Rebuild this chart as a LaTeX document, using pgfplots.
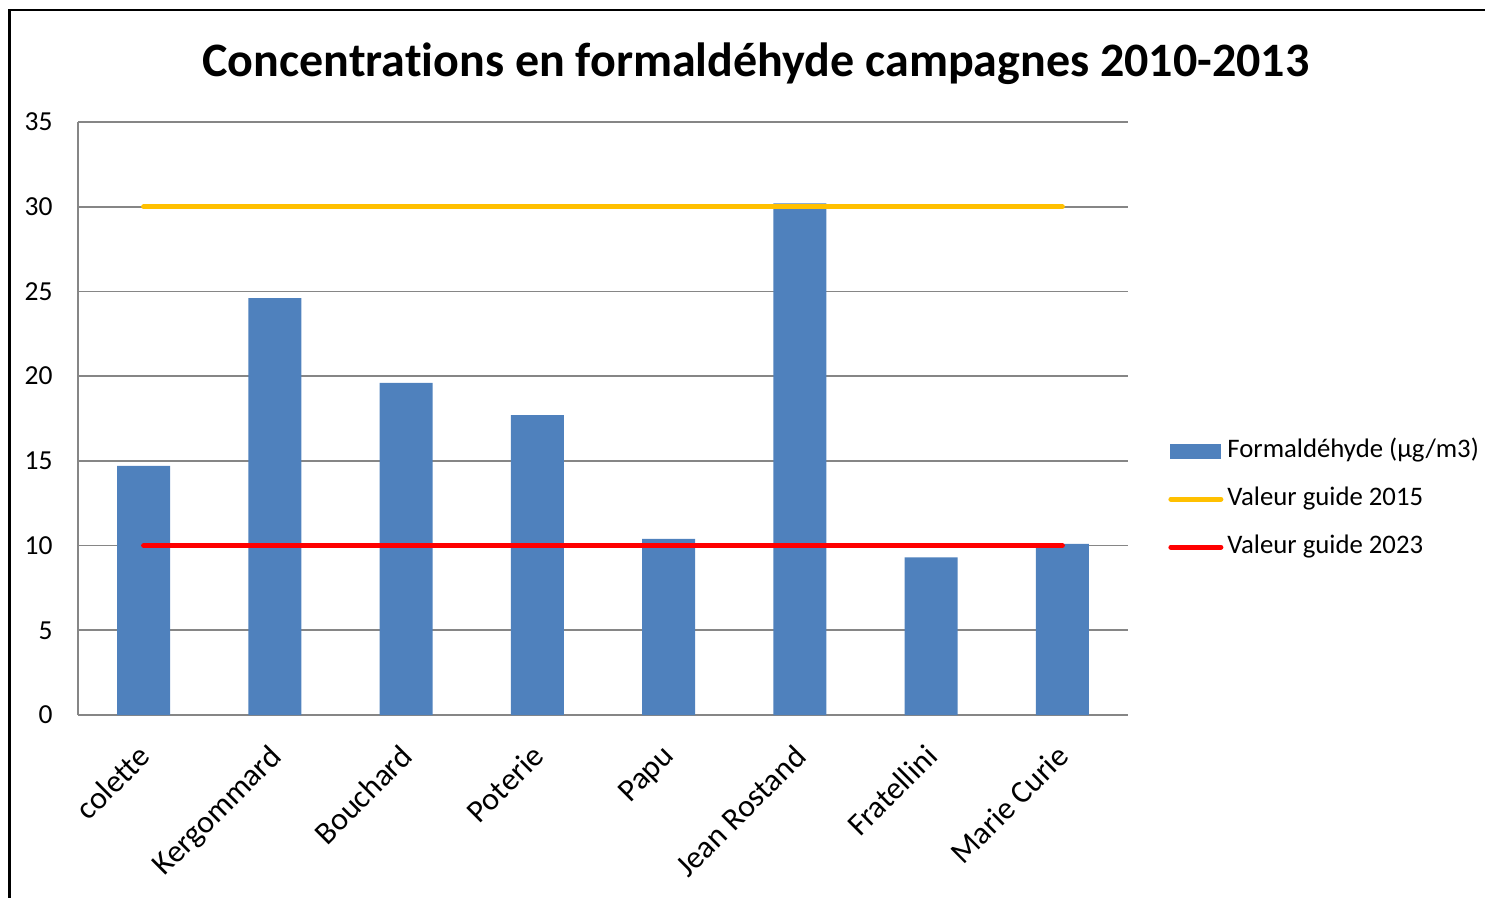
\documentclass[border=0pt]{standalone}
\usepackage{pgfplots}
\pgfplotsset{compat=1.18}
\usepackage{fontspec}
\setmainfont{Carlito}[Ligatures=CommonOff]
\definecolor{barblue}{HTML}{4F81BD}
\definecolor{guideyellow}{HTML}{FFC000}
\definecolor{guidered}{HTML}{FF0000}
\definecolor{gridgray}{HTML}{868686}
\begin{document}
\begin{tikzpicture}
\useasboundingbox (0,0) rectangle (594pt,358.8pt);
\draw[line width=0.9pt] (3.8pt,-1pt) -- (3.8pt,354.8pt) -- (595pt,354.8pt);
\begin{axis}[
  at={(31.2pt,72.8pt)}, anchor=south west,
  scale only axis, width=420pt, height=237.2pt,
  xmin=-0.5, xmax=7.5, ymin=0, ymax=35,
  ytick={0,5,...,35},
  xtick={0,...,7},
  xticklabels={colette,Kergommard,Bouchard,Poterie,Papu,Jean Rostand,Fratellini,Marie Curie},
  axis x line*=bottom, axis y line*=left,
  axis line style={-, gridgray, line width=0.7pt},
  ymajorgrids, grid style={gridgray, line width=0.7pt},
  major tick length=0pt,
  tick label style={black},
  yticklabel style={font=\fontsize{11}{13}\selectfont, anchor=east, inner sep=0pt, xshift=-10pt},
  xticklabel style={font=\fontsize{12.7}{15}\selectfont, yshift=-11pt, xshift=-3pt, rotate=45, anchor=north east, inner sep=0pt},
  /pgf/number format/assume math mode=true,
  legend style={at={(1.038,0.364)}, anchor=west, draw=none, fill=none,
    font=\fontsize{10.7}{12}\selectfont, inner sep=0pt,
    nodes={inner sep=0pt, text height=7.5pt, text depth=2.5pt},
    row sep=9.2pt, column sep=1.6pt},
  legend cell align=left,
]
\addplot[ybar, bar width=21.2pt, fill=barblue, draw=none,
  legend image code/.code={\fill[barblue] (0.4pt,-3pt) rectangle (20.8pt,3pt);}]
  coordinates {(0,14.7) (1,24.6) (2,19.6) (3,17.7) (4,10.4) (5,30.2) (6,9.3) (7,10.1)};
\addlegendentry{Formaldéhyde (µg/m3)}
\addplot[guideyellow, line width=2pt, line cap=round,
  legend image code/.code={\draw[guideyellow, line width=2pt, line cap=round] (0.8pt,0pt) -- (20.8pt,0pt);}]
  coordinates {(0,30) (7,30)};
\addlegendentry{Valeur guide 2015}
\addplot[guidered, line width=2pt, line cap=round,
  legend image code/.code={\draw[guidered, line width=2pt, line cap=round] (0.8pt,0pt) -- (20.8pt,0pt);}]
  coordinates {(0,10) (7,10)};
\addlegendentry{Valeur guide 2023}
\end{axis}
\node[font=\fontsize{19.2}{23}\selectfont\bfseries] at (302.4pt,333.5pt) {Concentrations en formaldéhyde campagnes 2010-2013};
\end{tikzpicture}
\end{document}
